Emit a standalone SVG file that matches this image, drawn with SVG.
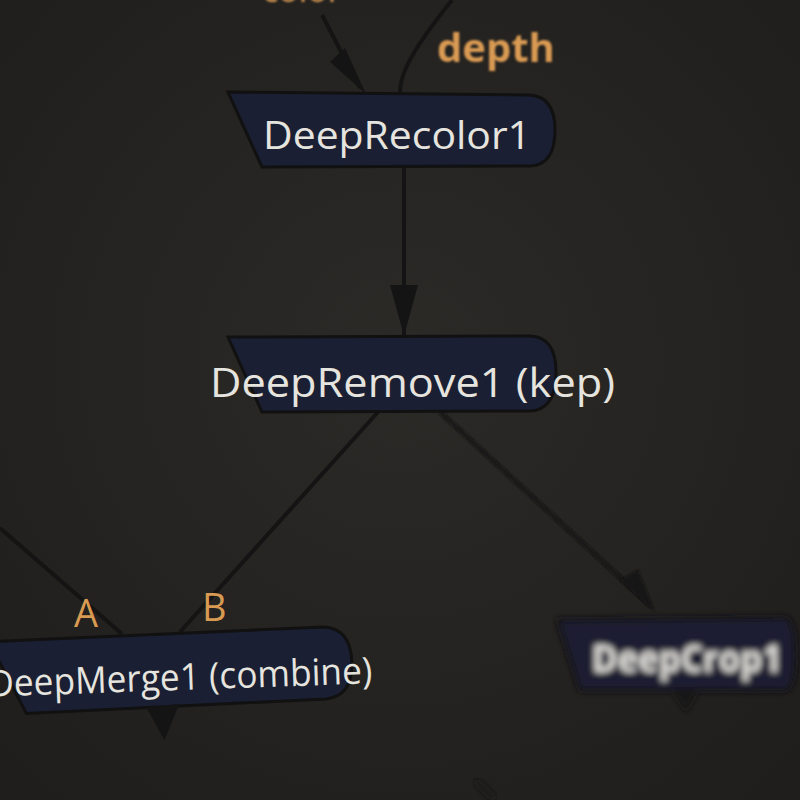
<svg xmlns="http://www.w3.org/2000/svg" width="800" height="800" viewBox="0 0 800 800">
<defs>
<radialGradient id="bg" cx="0.5" cy="0.45" r="0.7"><stop offset="0" stop-color="#2c2a27"/><stop offset="1" stop-color="#1f1e1c"/></radialGradient>
<filter id="blur"><feGaussianBlur stdDeviation="3"/></filter>
<filter id="blur1"><feGaussianBlur stdDeviation="1.2"/></filter>
</defs>
<style>
.node{fill:#1a1f33;stroke:#111;stroke-width:3}
.lbl{font-family:"Open Sans","DejaVu Sans",sans-serif;fill:#e6e4de}
.port{font-family:"Open Sans","DejaVu Sans",sans-serif;fill:#d99a52}
.edge{stroke:#141414;stroke-width:4;fill:none}
</style>
<rect width="800" height="800" fill="url(#bg)"/>
<g id="connectors">
<path class="edge" d="M322,15 L360,88"/>
<path d="M345,48 L366,94 L330,62 z" fill="#141414"/>
<path class="edge" d="M452,0 C420,40 400,70 400,92"/>
<path class="edge" d="M404,167 L404,336"/>
<path d="M390,285 L404,336 L418,285 z" fill="#141414"/>
<path class="edge" d="M378,412 L180,632"/>
<path class="edge" d="M440,412 L650,605" filter="url(#blur1)"/>
<path d="M620,580 L655,612 L638,570 z" fill="#141414" filter="url(#blur1)"/>
<path class="edge" d="M0,528 L122,634"/>
<path class="edge" d="M475,780 L495,800" filter="url(#blur)"/>
</g>
<text class="port" x="262" y="2" font-size="34" filter="url(#blur1)">color</text>
<text class="port" x="437" y="62" font-size="40" font-weight="bold" filter="url(#blur1)">depth</text>
<g id="DeepRecolor1">
<path class="node" d="M228,92 L530,95 Q555,97 555,130 Q555,165 530,166 L262,167 Z"/>
<text class="lbl" x="263" y="149" font-size="39" textLength="268" lengthAdjust="spacingAndGlyphs">DeepRecolor1</text>
</g>
<g id="DeepRemove1">
<path class="node" d="M228,337 L530,336 Q556,337 556,372 Q556,410 530,411 L262,412 Z"/>
<text class="lbl" x="210" y="397" font-size="40" textLength="405" lengthAdjust="spacingAndGlyphs">DeepRemove1 (kep)</text>
</g>
<g id="DeepMerge1" transform="rotate(-2 180 670)">
<path class="node" d="M-10,635 L325,632 Q352,634 352,668 Q352,702 325,704 L25,708 Z"/>
<path d="M145,706 L162,740 L178,704 z" fill="#141414"/>
<text class="lbl" x="-12" y="690" font-size="37" textLength="384" lengthAdjust="spacingAndGlyphs">DeepMerge1 (combine)</text>
</g>
<text class="port" x="74" y="627" font-size="38">A</text>
<text class="port" x="202" y="621" font-size="38">B</text>
<g id="DeepCrop1" filter="url(#blur)">
<path class="node" d="M558,620 L785,618 Q795,620 795,655 Q795,688 785,690 L580,690 Z"/>
<path d="M672,690 L686,712 L698,690 z" fill="#141414"/>
<text class="lbl" x="592" y="672" font-size="38" font-weight="bold" textLength="190" lengthAdjust="spacingAndGlyphs">DeepCrop1</text>
</g>
</svg>
